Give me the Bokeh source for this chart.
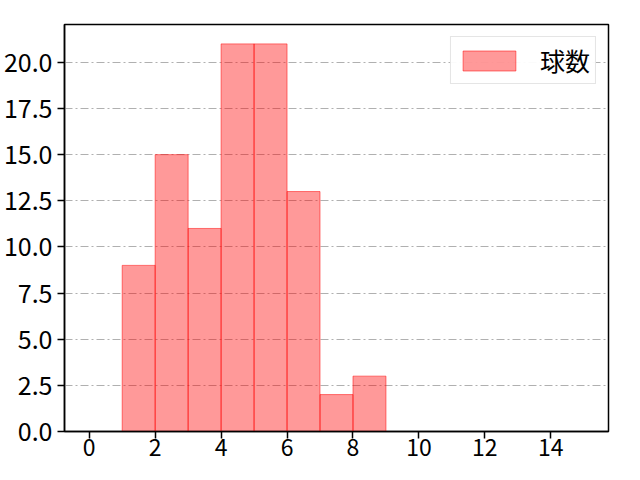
import numpy as np
from bokeh.plotting import figure
from bokeh.models import ColumnDataSource, FixedTicker, Legend, LegendItem, Range1d
from bokeh.embed import file_html
from bokeh.resources import INLINE

# Data
bin_edges = list(range(0, 16))
counts = [0, 9, 15, 11, 21, 21, 13, 2, 3, 0, 0, 0, 0, 0, 0]
series_label = "球数"
x_ticks = [0, 2, 4, 6, 8, 10, 12, 14]
y_ticks = [0.0, 2.5, 5.0, 7.5, 10.0, 12.5, 15.0, 17.5, 20.0]

FONT = "Noto Sans CJK JP"

left = [bin_edges[i] for i in range(len(counts)) if counts[i] > 0]
right = [bin_edges[i + 1] for i in range(len(counts)) if counts[i] > 0]
top = [c for c in counts if c > 0]
src = ColumnDataSource(dict(left=left, right=right, top=top, bottom=[0] * len(top)))

p = figure(width=624, height=464, output_backend="svg", toolbar_location=None,
           x_range=Range1d(-0.75, 15.75), y_range=Range1d(0, 22.05),
           min_border_left=63, min_border_right=16, min_border_top=24, min_border_bottom=33)

p.xgrid.visible = False
p.ygrid.ticker = FixedTicker(ticks=y_ticks)
p.ygrid.grid_line_color = "#b0b0b0"
p.ygrid.grid_line_dash = "8 3 2 3"
p.ygrid.grid_line_width = 1

r = p.quad(left="left", right="right", bottom="bottom", top="top", source=src,
           fill_color="red", fill_alpha=0.4, line_color="red", line_alpha=0.5, line_width=1)

for ax in (p.xaxis[0], p.yaxis[0]):
    ax.major_label_text_font = FONT
    ax.major_label_text_color = "black"
    ax.axis_line_color = "black"
    ax.axis_line_width = 1.5
    ax.major_tick_line_color = "black"
    ax.major_tick_line_width = 1.5
    ax.major_tick_out = 7
    ax.major_tick_in = 0
    ax.minor_tick_line_color = None

p.yaxis.major_label_text_font_size = "25px"
p.xaxis.major_label_text_font_size = "23px"
p.yaxis.major_label_standoff = 5
p.xaxis.major_label_standoff = 0
p.xaxis.major_label_text_line_height = 1.0

p.xaxis.ticker = FixedTicker(ticks=x_ticks)
p.yaxis.ticker = FixedTicker(ticks=y_ticks)
p.yaxis.major_label_overrides = {t: f"{t:.1f}" for t in y_ticks}

p.outline_line_color = "black"
p.outline_line_width = 1.5
p.outline_line_alpha = 1

legend = Legend(items=[LegendItem(label=series_label, renderers=[r])], location="top_right")
legend.label_text_font = FONT
legend.label_text_font_size = "25px"
legend.label_text_color = "black"
legend.label_text_line_height = 1.0
legend.glyph_width = 66
legend.glyph_height = 25
legend.label_standoff = 18
legend.label_height = 26
legend.border_line_color = "#cccccc"
legend.border_line_width = 1
legend.padding = 5
legend.margin = 12
p.add_layout(legend)

open("out.html", "w").write(file_html(p, INLINE))
